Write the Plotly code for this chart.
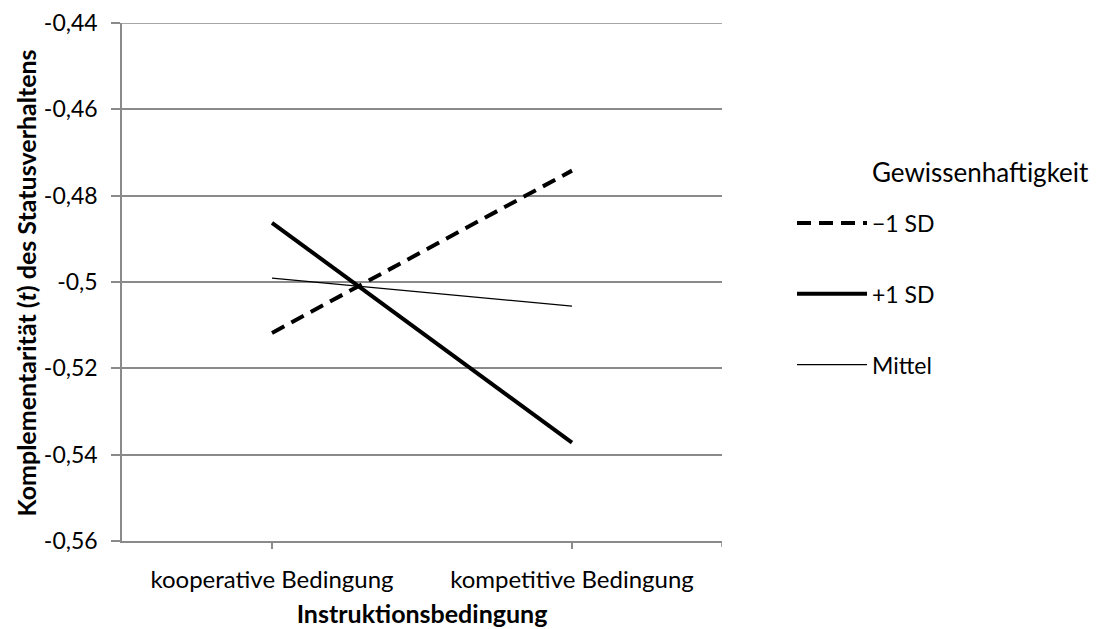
import plotly.graph_objects as go

categories = ["kooperative Bedingung", "kompetitive Bedingung"]
series_names = ["\u22121 SD", "+1 SD", "Mittel"]
minus1sd = [-0.5118, -0.4742]
plus1sd = [-0.4863, -0.5372]
mittel = [-0.4991, -0.5056]
y_tickvals = [-0.56, -0.54, -0.52, -0.50, -0.48, -0.46, -0.44]
y_ticktext = ["-0,56", "-0,54", "-0,52", "-0,5", "-0,48", "-0,46", "-0,44"]

FONT = "Lato"
GRID = "#8a8a8a"

fig = go.Figure()
styles = [
    dict(color="black", width=4, dash="14px,8px"),
    dict(color="black", width=4),
    dict(color="black", width=1.3),
]
for i, (name, vals) in enumerate(zip(series_names, [minus1sd, plus1sd, mittel])):
    fig.add_trace(go.Scatter(x=categories, y=vals, mode="lines", name=name,
                             line=styles[i], legendgroup=f"g{i}"))

# page has an 8px body margin, so the figure is 8px smaller than the window
fig.update_layout(
    width=1096, height=621,
    margin=dict(l=114, r=382, t=15, b=88),
    paper_bgcolor="white", plot_bgcolor="white",
    font=dict(family=FONT, size=24, color="black"),
    showlegend=True,
    legend=dict(x=1.1167, y=0.6555, xanchor="left", yanchor="top",
                itemwidth=70, tracegroupgap=38,
                font=dict(family=FONT, size=23, color="black"),
                bgcolor="rgba(0,0,0,0)"),
    annotations=[
        dict(text="Gewissenhaftigkeit", xref="paper", yref="paper",
             x=1.2467, y=0.7124, xanchor="left", yanchor="middle",
             showarrow=False, font=dict(family=FONT, size=26, color="black")),
        dict(text="<b>Komplementarität (<i>t</i>) des Statusverhaltens</b>",
             xref="paper", yref="paper", x=-0.16, y=0.497, textangle=-90,
             xanchor="center", yanchor="middle", showarrow=False,
             font=dict(family=FONT, size=25, color="black")),
    ],
)
fig.update_xaxes(type="category", range=[-0.5, 1.5], showline=True, linecolor=GRID,
                 linewidth=1.5, ticks="outside", ticklen=6, tickcolor=GRID, tickwidth=1.5,
                 showgrid=False, zeroline=False, automargin=False, ticklabelstandoff=10,
                 tickfont=dict(family=FONT, size=24),
                 title=dict(text="<b>Instruktionsbedingung</b>", font=dict(family=FONT, size=25), standoff=14))
fig.update_yaxes(range=[-0.56, -0.44], tickvals=y_tickvals, ticktext=y_ticktext,
                 showline=True, linecolor=GRID, linewidth=1.5, ticks="outside", ticklen=9,
                 tickcolor=GRID, tickwidth=1.5, showgrid=True, gridcolor=GRID, gridwidth=1.5,
                 zeroline=False, automargin=False, ticklabelstandoff=9,
                 ticklabeloverflow="allow",
                 tickfont=dict(family=FONT, size=23))
# top gridline (plotly drops gridlines sitting on the plot edge)
fig.add_shape(type="line", xref="paper", yref="y", x0=0, x1=1,
              y0=y_tickvals[-1], y1=y_tickvals[-1], line=dict(color=GRID, width=1.5))
# end tick mark at right edge of category axis
fig.add_shape(type="line", xref="x", yref="paper", x0=1.5, x1=1.5, y0=0, y1=-0.0116,
              line=dict(color=GRID, width=1.5))

fig.write_html("out.html")
